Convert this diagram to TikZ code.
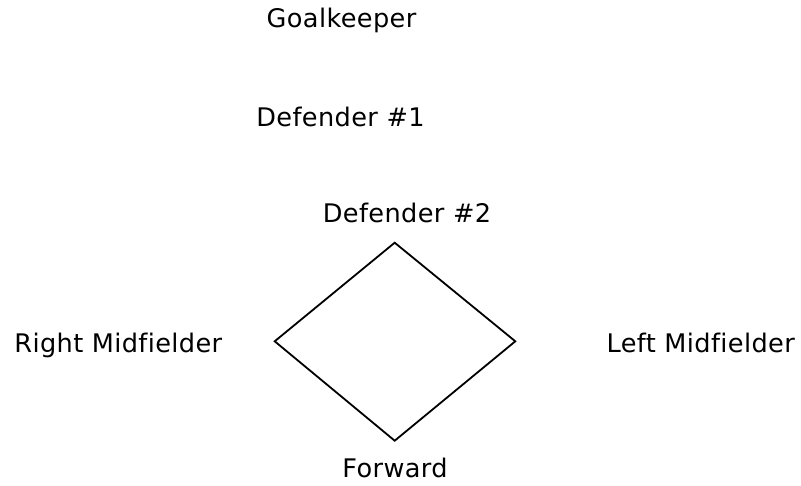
\documentclass[tikz,border=0pt]{standalone}
\usepackage{fontspec}
\setmainfont{DejaVu Sans}[LetterSpace=1.5,Ligatures={NoCommon}]
\begin{document}
\begin{tikzpicture}[x=1pt,y=-1pt,
  lbl/.style={anchor=base,inner sep=0pt,font=\fontsize{25.6}{30}\selectfont}]
\useasboundingbox (0,0) rectangle (801,486);
\node[lbl] (gk) at (341.5,28) {Goalkeeper};
\node[lbl] (d1) at (340.5,127) {Defender \#1};
\node[lbl] (d2) at (407,222.6) {Defender \#2};
\node[lbl] (rm) at (118.3,353) {Right Midfielder};
\node[lbl] (lm) at (700.7,353) {Left Midfielder};
\node[lbl] (fw) at (395,477.6) {Forward};
\coordinate (top) at (394.7,242.7);
\coordinate (left) at (274.7,341.3);
\coordinate (right) at (515.3,341.3);
\coordinate (bottom) at (394.7,440.7);
\draw[line width=1.8pt,line join=miter] (top) -- (right) -- (bottom) -- (left) -- cycle;
\end{tikzpicture}
\end{document}
